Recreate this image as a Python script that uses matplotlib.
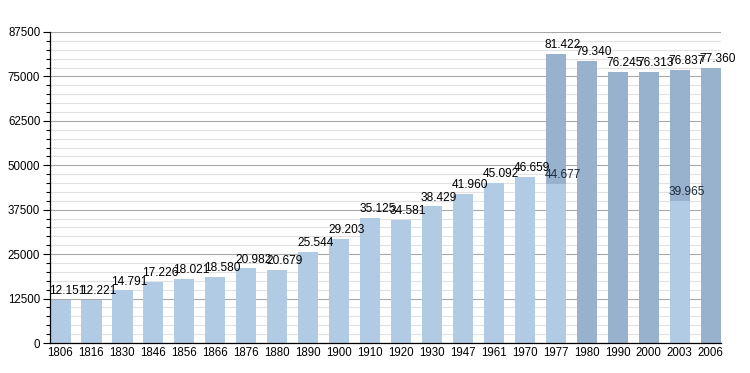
import matplotlib
matplotlib.use("Agg")
import matplotlib.pyplot as plt
from matplotlib.ticker import MultipleLocator

years = ["1806", "1816", "1830", "1846", "1856", "1866", "1876", "1880", "1890", "1900",
         "1910", "1920", "1930", "1947", "1961", "1970", "1977", "1980", "1990", "2000",
         "2003", "2006"]
light = [12151, 12221, 14791, 17226, 18021, 18580, 20982, 20679, 25544, 29203,
         35125, 34581, 38429, 41960, 45092, 46659, 44677, None, None, None,
         39965, None]
dark = [None] * 16 + [81422, 79340, 76245, 76313, 76837, 77360]

light_color = "#b2cbe5"
dark_color = "#98b2cd"

plt.rcParams['font.family'] = ['Liberation Sans', 'DejaVu Sans']
fig = plt.figure(figsize=(7.5, 3.73), dpi=100)
ax = fig.add_axes([50/750, 30/373, 671/750, 311/373])

w = 0.65
x = list(range(len(years)))
for i in x:
    if dark[i] is not None:
        ax.bar(i, dark[i], width=w, color=dark_color, zorder=3)
    if light[i] is not None:
        ax.bar(i, light[i], width=w, color=light_color, zorder=4)

def fmt(v):
    return f"{v:,}".replace(",", ".")

fs = 8.6
for i in x:
    if dark[i] is not None:
        ax.annotate(fmt(dark[i]), (i - w/2 - 0.03, dark[i]), xytext=(0, 2),
                    textcoords="offset points", ha="left", va="bottom", fontsize=fs, zorder=6)
    if light[i] is not None:
        ax.annotate(fmt(light[i]), (i - w/2 - 0.03, light[i]), xytext=(0, 2),
                    textcoords="offset points", ha="left", va="bottom", fontsize=fs,
                    color="#1a2a3a" if dark[i] is not None else "black", zorder=6)

ax.set_xlim(-0.33 - 0.01, len(years) - 1 + 0.335)
ax.set_ylim(0, 87500)
ax.yaxis.set_major_locator(MultipleLocator(12500))
ax.yaxis.set_minor_locator(MultipleLocator(2500))
ax.set_xticks(x)
ax.set_xticklabels(years)
ax.tick_params(axis="x", length=0, labelsize=8.3, pad=3)
ax.tick_params(axis="y", which="major", length=5, labelsize=8.3, width=0.8, pad=2)
ax.tick_params(axis="y", which="minor", length=3, width=0.8)
ax.grid(axis="y", which="major", color="#a8a8a8", linewidth=0.8, zorder=1)
ax.grid(axis="y", which="minor", color="#e2e2e2", linewidth=0.8, zorder=0)
for s in ["top", "right"]:
    ax.spines[s].set_visible(False)
ax.spines["left"].set_linewidth(0.9)
ax.spines["bottom"].set_linewidth(0.9)
ax.spines["left"].set_zorder(5)
ax.spines["bottom"].set_zorder(5)

fig.savefig("out.png", dpi=100)
